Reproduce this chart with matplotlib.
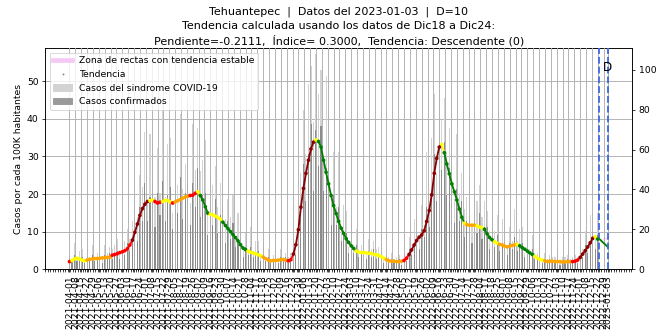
import matplotlib
matplotlib.use("Agg")
import matplotlib.pyplot as plt
import matplotlib.dates as mdates
import pandas as pd
from matplotlib.collections import LineCollection
from matplotlib.lines import Line2D
from matplotlib.patches import Patch

REGION = "Tehuantepec"
FECHA = "2023-01-03"
D = 10
PENDIENTE = -0.2111
INDICE = 0.3000
INICIO_RECTA = "2022-12-24"
VALOR_INICIO_RECTA = 8.0

# tendencia (casos por 100K), un punto cada 3 días desde 2021-04-01
tendencia = [
    2.0, 2.3, 2.7, 2.9, 2.7, 2.4, 2.2, 2.4, 2.6, 2.7,
    2.8, 2.8, 2.9, 3.0, 3.0, 3.1, 3.2, 3.7, 3.9, 4.1,
    4.4, 4.6, 4.9, 5.4, 6.4, 7.7, 9.8, 12.0, 14.3, 16.1,
    17.3, 18.0, 18.2, 18.4, 18.0, 17.6, 17.8, 18.0, 18.3, 18.3,
    17.9, 17.6, 17.9, 18.2, 18.5, 18.9, 19.2, 19.4, 19.6, 19.7,
    20.2, 20.6, 19.6, 18.4, 16.6, 14.9, 14.6, 14.4, 14.1, 13.8,
    13.3, 12.5, 11.6, 10.8, 10.0, 9.2, 8.4, 7.5, 6.5, 5.6,
    5.2, 4.8, 4.5, 4.3, 4.1, 3.8, 3.6, 3.2, 2.8, 2.4,
    2.2, 2.3, 2.3, 2.4, 2.5, 2.5, 2.4, 2.2, 2.5, 4.0,
    6.5, 10.5, 16.5, 21.5, 25.5, 29.0, 32.0, 33.8, 34.4, 34.0,
    32.5, 29.0, 25.8, 22.7, 19.6, 16.9, 14.8, 12.7, 10.9, 9.5,
    8.1, 7.1, 6.2, 5.5, 4.8, 4.5, 4.4, 4.4, 4.3, 4.2,
    4.2, 3.9, 3.8, 3.6, 3.3, 2.9, 2.5, 2.2, 2.1, 2.1,
    2.0, 2.0, 2.1, 2.3, 2.9, 3.9, 5.1, 6.4, 7.6, 8.5,
    9.1, 10.2, 12.7, 15.6, 19.8, 25.5, 29.5, 32.5, 33.2, 31.0,
    28.0, 25.4, 22.7, 20.6, 18.4, 16.0, 13.8, 12.2, 11.8, 11.7,
    11.7, 11.7, 11.5, 11.2, 11.0, 10.6, 9.4, 8.4, 7.8, 7.3,
    6.9, 6.6, 6.4, 6.1, 5.9, 6.1, 6.3, 6.5, 6.6, 6.2,
    5.7, 5.3, 4.8, 4.3, 3.9, 3.4, 2.9, 2.6, 2.4, 2.2,
    2.0, 2.1, 2.1, 2.0, 2.0, 2.0, 1.9, 1.9, 2.0, 2.0,
    2.0, 2.1, 2.4, 3.1, 4.0, 4.9, 5.9, 7.0, 8.2, 8.6,
    8.0,
]

# clase de pendiente por tramos consecutivos de la tendencia
tramos = [
    ("r", 1), ("y", 6), ("o", 10), ("r", 8), ("dr", 7), ("y", 2), ("r", 3),
    ("y", 4), ("r", 1), ("o", 6), ("r", 3), ("y", 1), ("g", 4), ("y", 5),
    ("g", 10), ("y", 6), ("o", 10), ("r", 2), ("dr", 9), ("y", 1), ("g", 15),
    ("y", 12), ("o", 7), ("r", 2), ("dr", 13), ("y", 1), ("g", 8), ("y", 1),
    ("o", 4), ("y", 3), ("g", 4), ("y", 2), ("o", 7), ("y", 1), ("g", 6),
    ("y", 4), ("o", 11), ("r", 3), ("dr", 6), ("y", 1), ("g", 1),
]
COLORES = {"dr": "#8b0000", "r": "#ff0000", "o": "#ffa500",
           "y": "#ffff00", "g": "#008000"}

# casos diarios (eje derecho)
sindrome = [
    6, 5, 13, 6, 9, 10, 4, 10, 6, 12,
    6, 8, 13, 5, 12, 8, 11, 10, 12, 15,
    8, 14, 14, 20, 15, 24, 31, 26, 47, 41,
    69, 34, 68, 63, 36, 61, 38, 84, 36, 63,
    66, 28, 74, 42, 78, 40, 53, 84, 33, 73,
    50, 71, 49, 55, 65, 27, 45, 42, 52, 31,
    43, 40, 25, 35, 26, 37, 15, 28, 22, 10,
    18, 10, 21, 9, 14, 14, 6, 13, 6, 10,
    5, 7, 10, 5, 10, 6, 8, 6, 8, 15,
    12, 32, 48, 80, 58, 93, 102, 74, 108, 88,
    100, 55, 97, 78, 37, 59, 31, 59, 21, 32,
    29, 11, 26, 12, 20, 10, 12, 19, 7, 15,
    10, 14, 10, 11, 13, 5, 7, 6, 8, 5,
    6, 7, 4, 8, 7, 16, 10, 25, 26, 17,
    32, 22, 59, 31, 66, 88, 48, 90, 75, 86,
    59, 71, 80, 35, 68, 38, 48, 30, 36, 46,
    21, 36, 34, 42, 26, 34, 29, 19, 26, 19,
    27, 13, 25, 21, 12, 21, 14, 30, 14, 20,
    21, 8, 19, 10, 17, 8, 8, 11, 4, 8,
    5, 7, 6, 6, 8, 3, 6, 6, 7, 5,
    6, 7, 6, 10, 10, 19, 11, 27, 28, 17,
    28,
]
confirmados = [
    4, 4, 7, 4, 5, 6, 3, 5, 4, 7,
    4, 6, 7, 3, 7, 5, 8, 5, 8, 9,
    5, 10, 7, 13, 9, 15, 22, 14, 31, 24,
    43, 24, 36, 42, 21, 38, 27, 44, 24, 37,
    41, 20, 39, 28, 46, 25, 38, 44, 22, 43,
    31, 51, 26, 37, 38, 17, 32, 22, 35, 18,
    27, 29, 13, 24, 15, 23, 11, 15, 15, 6,
    11, 7, 11, 6, 8, 9, 4, 7, 4, 6,
    3, 5, 5, 3, 6, 4, 6, 3, 5, 9,
    7, 23, 25, 53, 34, 58, 73, 39, 70, 52,
    72, 39, 51, 52, 22, 37, 22, 31, 14, 19,
    18, 8, 14, 8, 12, 6, 9, 10, 5, 9,
    6, 10, 5, 7, 8, 3, 5, 3, 5, 3,
    4, 5, 2, 5, 4, 10, 7, 13, 17, 10,
    20, 16, 31, 21, 39, 58, 34, 66, 50, 64,
    37, 51, 52, 23, 40, 24, 34, 16, 24, 27,
    13, 26, 18, 28, 15, 21, 21, 10, 17, 11,
    17, 9, 13, 14, 7, 13, 10, 16, 9, 12,
    13, 6, 10, 7, 10, 5, 6, 6, 3, 5,
    3, 5, 3, 4, 5, 2, 4, 3, 5, 3,
    4, 5, 3, 7, 6, 12, 8, 14, 19, 10,
    17,
]

fechas = pd.date_range("2021-04-01", periods=len(tendencia), freq="3D")
colores = [COLORES[c] for c, n in tramos for _ in range(n)]

fin = pd.Timestamp(FECHA)
ini = pd.Timestamp(INICIO_RECTA)
x0, x1 = pd.Timestamp("2021-03-03"), pd.Timestamp("2023-02-01")

fig = plt.figure(figsize=(10, 4.985), dpi=66.4)
ax = fig.add_axes([0.068, 0.187, 0.884, 0.668])
ax2 = ax.twinx()
ax3 = ax.twinx()

# ── eje izquierdo: escala de la tendencia y rejilla horizontal ──────────────
ax.set_ylim(0, 58.9)
ax.set_yticks([0, 10, 20, 30, 40, 50])
ax.set_ylabel("Casos por cada 100K habitantes", fontsize=10)
ax.grid(axis="y", color="#b0b0b0", lw=1)
ax.tick_params(axis="x", labelbottom=False, bottom=False)

# ── eje derecho: barras de casos diarios ─────────────────────────────────────
ax2.bar(fechas, sindrome, width=1.3, color="#d3d3d3", zorder=1)
ax2.bar(fechas, confirmados, width=1.3, color="#8c8c8c", zorder=1.1)
ax2.set_ylim(0, 111)
ax2.set_yticks([0, 20, 40, 60, 80, 100])
ax2.set_ylabel("Casos diarios por cada 100K habitantes", fontsize=10,
               labelpad=13)
ax2.xaxis.set_visible(True)
ax2.set_axisbelow(False)
ax2.grid(axis="x", color="#b0b0b0", lw=1)

ticks = list(pd.date_range("2021-04-01", FECHA, freq="7D")) + [fin]
ax2.set_xticks(ticks)
ax2.xaxis.set_major_formatter(mdates.DateFormatter("%Y-%m-%d"))
ax2.set_xticks(pd.date_range(x0, x1, freq="3D"), minor=True)
ax2.tick_params(axis="x", which="major", labelrotation=90, labelsize=10)
ax2.tick_params(axis="x", which="minor", length=3)
ax2.set_xlim(x0, x1)

handles = [
    Line2D([], [], color="#f5c8f5", lw=5),
    Line2D([], [], color="#7f7f7f", marker=".", ms=2, ls="none"),
    Patch(color="#d3d3d3"),
    Patch(color="#9a9a9a"),
]
labels = ["Zona de rectas con tendencia estable", "Tendencia",
          "Casos del sindrome COVID-19", "Casos confirmados"]
ax2.legend(handles, labels, loc="upper left", fontsize=10)

# ── tendencia coloreada, recta de los últimos D días y zona estable ──────────
ax3.set_ylim(ax.get_ylim())
ax3.axis("off")
xs = mdates.date2num(fechas)
segs = [[(xs[i], tendencia[i]), (xs[i + 1], tendencia[i + 1])]
        for i in range(len(xs) - 1)]
ax3.add_collection(LineCollection(segs, colors=colores[:-1], lw=2))
ax3.scatter(fechas, tendencia, c=colores, s=16, lw=0, zorder=3)

y_fin = VALOR_INICIO_RECTA + PENDIENTE * D
ax3.fill_between([ini, fin], [VALOR_INICIO_RECTA] * 2,
                 [VALOR_INICIO_RECTA, VALOR_INICIO_RECTA + 0.3 * D * 0.25],
                 color="violet", alpha=0.35, lw=0)
ax3.plot([ini, fin], [VALOR_INICIO_RECTA, y_fin], color="#008000", lw=2)
for f in (ini, fin):
    ax3.axvline(f, color="#4169e1", ls="--", lw=2)
ax3.text(fin, 53.7, "D", fontsize=13, ha="center", va="center")
ax3.set_xlim(x0, x1)

ax.set_title(f"{REGION}  |  Datos del {FECHA}  |  D={D}\n"
             "Tendencia calculada usando los datos de Dic18 a Dic24:\n"
             f"Pendiente={PENDIENTE:.4f},  Índice= {INDICE:.4f},  "
             "Tendencia: Descendente (0)",
             fontsize=12, linespacing=1.45, pad=4)

fig.savefig("out.png", dpi=66.4)
